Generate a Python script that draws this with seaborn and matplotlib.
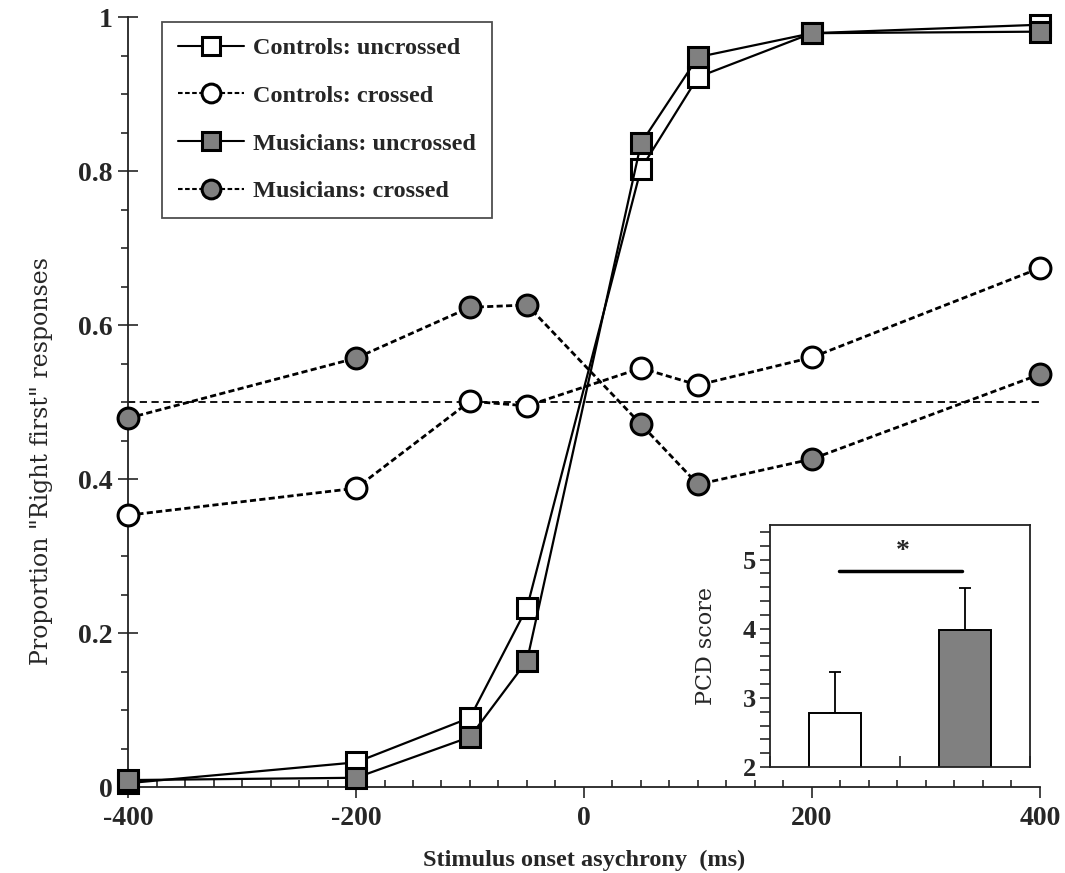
import matplotlib
matplotlib.use("Agg")
import matplotlib.pyplot as plt
from matplotlib.ticker import MultipleLocator, FixedLocator, NullFormatter
import seaborn as sns
import pandas as pd

# Stimulus onset asynchrony (ms)
soa = [-400, -200, -100, -50, 50, 100, 200, 400]

# Proportion of "Right first" responses per group / hand posture
controls_uncrossed = [0.005, 0.032, 0.090, 0.233, 0.803, 0.922, 0.979, 0.990]
controls_crossed = [0.353, 0.388, 0.501, 0.495, 0.544, 0.522, 0.558, 0.674]
musicians_uncrossed = [0.009, 0.012, 0.065, 0.164, 0.836, 0.948, 0.979, 0.981]
musicians_crossed = [0.479, 0.557, 0.623, 0.626, 0.471, 0.393, 0.426, 0.536]

# PCD score inset
groups = ["Controls", "Musicians"]
pcd_mean = [2.78, 3.98]
pcd_err = [0.60, 0.61]

chance_level = 0.5

sns.set_style("white")
plt.rcParams["font.family"] = ["Liberation Serif", "DejaVu Serif"]
plt.rcParams["font.weight"] = "bold"
plt.rcParams["axes.unicode_minus"] = False

GREY = "#808080"
DASH = (2.2, 1.2)

fig = plt.figure(figsize=(10.65, 8.73), dpi=100)
ax = fig.add_axes([0.1202, 0.0985, 0.8563, 0.882])

series = [
    ("Controls: uncrossed", controls_uncrossed, "s", "white", "-"),
    ("Controls: crossed", controls_crossed, "o", "white", "--"),
    ("Musicians: uncrossed", musicians_uncrossed, "s", GREY, "-"),
    ("Musicians: crossed", musicians_crossed, "o", GREY, "--"),
]

# chance line
ax.plot([soa[0], soa[-1]], [chance_level, chance_level], color="black",
        lw=1.3, linestyle=(0, (4, 2.5)), zorder=1)

handles = []
for label, vals, mk, fc, ls in series:
    df = pd.DataFrame({"soa": soa, "p": vals})
    if ls == "--":
        kw = dict(linestyle=(0, DASH), lw=2.0)
    else:
        kw = dict(linestyle="-", lw=1.6)
    sns.lineplot(data=df, x="soa", y="p", ax=ax, color="black",
                 marker=mk, markersize=14 if mk == "s" else 15,
                 markerfacecolor=fc, markeredgecolor="black",
                 markeredgewidth=2.2, errorbar=None, sort=False,
                 clip_on=False, label=label, zorder=3, **kw)
    handles.append(ax.lines[-1])

ax.set_xlim(-400, 400)
ax.set_ylim(0, 1)
ax.xaxis.set_major_locator(FixedLocator([-400, -200, 0, 200, 400]))
ax.xaxis.set_minor_locator(MultipleLocator(25))
ax.yaxis.set_major_locator(FixedLocator([0, 0.2, 0.4, 0.6, 0.8, 1.0]))
ax.yaxis.set_minor_locator(MultipleLocator(0.05))
ax.set_yticklabels(["0", "0.2", "0.4", "0.6", "0.8", "1"])
ax.tick_params(axis="x", which="major", direction="out", length=8, width=1.2,
               labelsize=20, pad=6)
ax.tick_params(axis="x", which="minor", direction="in", length=5, width=1.2)
ax.tick_params(axis="y", which="major", direction="inout", length=14,
               width=1.2, labelsize=20, pad=4)
ax.tick_params(axis="y", which="minor", direction="out", length=5, width=1.2)
ax.tick_params(left=True, bottom=True, which="both")
for s in ["top", "right"]:
    ax.spines[s].set_visible(False)
for s in ["left", "bottom"]:
    ax.spines[s].set_color("#222222")
    ax.spines[s].set_linewidth(1.3)

ax.set_xlabel("Stimulus onset asychrony  (ms)", fontsize=17.5,
              fontweight="bold", labelpad=13)
ax.set_ylabel('Proportion "Right first" responses', fontsize=17,
              family="DejaVu Serif", fontweight="normal")
ax.yaxis.set_label_coords(-0.082, 0.423)

leg = ax.legend(handles=handles, loc="upper left",
                bbox_to_anchor=(0.037, 0.994), borderaxespad=0,
                frameon=True, fancybox=False, edgecolor="#222222",
                fontsize=17.5, labelspacing=1.05, handlelength=2.75,
                handletextpad=0.35, borderpad=0.65, markerscale=0.9)
leg.get_frame().set_linewidth(1.3)
for h in leg.legend_handles:
    h.set_linewidth(1.5)

# Inset: PCD scores
ins = fig.add_axes([0.723, 0.1214, 0.2441, 0.2772])
pcd_df = pd.DataFrame({"group": groups, "score": pcd_mean})
sns.barplot(data=pcd_df, x="group", y="score", hue="group",
            palette=["white", GREY], edgecolor="black", linewidth=1.4,
            width=0.4, ax=ins, legend=False, zorder=2)
ins.errorbar([0, 1], pcd_mean, yerr=[[0, 0], pcd_err], fmt="none",
             ecolor="black", elinewidth=1.3, capsize=4, capthick=1.3,
             zorder=1)
ins.set_xlim(-0.5, 1.5)
ins.set_ylim(2, 5.5)
ins.xaxis.set_major_locator(FixedLocator([-0.5, 0.5, 1.5]))
ins.xaxis.set_major_formatter(NullFormatter())
ins.yaxis.set_major_locator(FixedLocator([2, 3, 4, 5]))
ins.yaxis.set_minor_locator(MultipleLocator(0.2))
ins.tick_params(axis="x", direction="in", length=8, width=1.2)
ins.tick_params(axis="y", which="both", direction="out", length=7, width=1.2,
                labelsize=19, pad=3)
ins.tick_params(left=True, bottom=True, which="both")
ins.set_xlabel("")
ins.set_ylabel("PCD score", fontsize=16, family="DejaVu Serif",
               fontweight="normal")
ins.yaxis.set_label_coords(-0.205, 0.5)
for s in ins.spines.values():
    s.set_visible(True)
    s.set_color("#222222")
    s.set_linewidth(1.3)

# significance bracket
ins.plot([0.03, 0.98], [4.83, 4.83], color="black", lw=2.5, zorder=3)
ins.text(0.52, 4.93, "*", ha="center", va="bottom", fontsize=20,
         fontweight="bold")

fig.savefig("out.png", dpi=100)
